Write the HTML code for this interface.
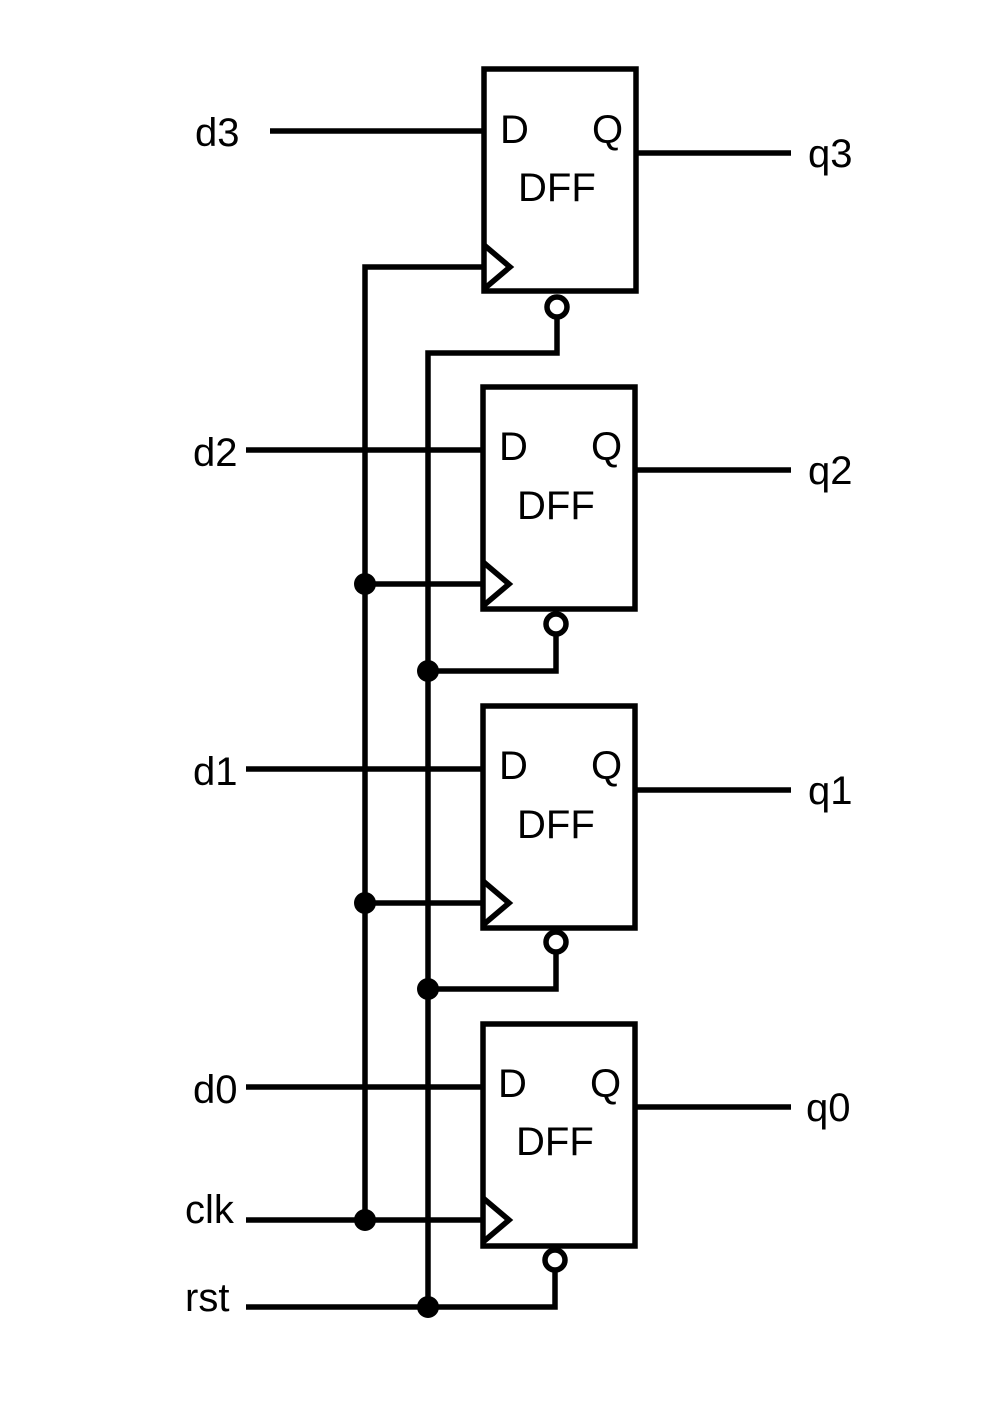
<!DOCTYPE html>
<html><head><meta charset="utf-8"><style>
html,body{margin:0;padding:0;background:#fff;}
svg{display:block;}
text{font-family:"Liberation Sans",Arial,sans-serif;font-size:40px;fill:#000;}
</style></head><body>
<svg width="999" height="1417" viewBox="0 0 999 1417" xmlns="http://www.w3.org/2000/svg">
<g stroke="#000" stroke-width="5.5" fill="none">
<rect x="484" y="69" width="152" height="222"/>
<rect x="483" y="387" width="152" height="222"/>
<rect x="483" y="706" width="152" height="222"/>
<rect x="483" y="1024" width="152" height="222"/>
<polyline points="484,245 510,267 484,289"/>
<polyline points="483,562 509,584 483,606"/>
<polyline points="483,881 509,903 483,925"/>
<polyline points="483,1198 509,1220 483,1242"/>
<circle cx="557" cy="307" r="10" fill="#fff"/>
<circle cx="556" cy="624" r="10" fill="#fff"/>
<circle cx="556" cy="942" r="10" fill="#fff"/>
<circle cx="555" cy="1260" r="10" fill="#fff"/>
<line x1="270" y1="131" x2="484" y2="131"/>
<line x1="246" y1="450" x2="483" y2="450"/>
<line x1="246" y1="769" x2="483" y2="769"/>
<line x1="246" y1="1087" x2="483" y2="1087"/>
<line x1="636" y1="153" x2="791" y2="153"/>
<line x1="635" y1="470" x2="791" y2="470"/>
<line x1="635" y1="790" x2="791" y2="790"/>
<line x1="635" y1="1107" x2="791" y2="1107"/>
<polyline points="484,267 365,267 365,1220"/>
<line x1="365" y1="584" x2="483" y2="584"/>
<line x1="365" y1="903" x2="483" y2="903"/>
<line x1="246" y1="1220" x2="483" y2="1220"/>
<polyline points="557,317 557,353 428,353 428,1307"/>
<polyline points="556,634 556,671 428,671"/>
<polyline points="556,952 556,989 428,989"/>
<polyline points="246,1307 555,1307 555,1270"/>
</g>
<g fill="#000">
<circle cx="365" cy="584" r="11"/>
<circle cx="365" cy="903" r="11"/>
<circle cx="365" cy="1220" r="11"/>
<circle cx="428" cy="671" r="11"/>
<circle cx="428" cy="989" r="11"/>
<circle cx="428" cy="1307" r="11"/>
</g>
<text x="195" y="146">d3</text>
<text x="193" y="466">d2</text>
<text x="193" y="785">d1</text>
<text x="193" y="1103">d0</text>
<text x="185" y="1223">clk</text>
<text x="185" y="1311">rst</text>
<text x="808" y="167">q3</text>
<text x="808" y="484">q2</text>
<text x="808" y="804">q1</text>
<text x="806" y="1121">q0</text>
<g>
<text x="500" y="143">D</text><text x="592" y="143">Q</text><text x="518" y="201">DFF</text>
<text x="499" y="460">D</text><text x="591" y="460">Q</text><text x="517" y="519">DFF</text>
<text x="499" y="779">D</text><text x="591" y="779">Q</text><text x="517" y="838">DFF</text>
<text x="498" y="1097">D</text><text x="590" y="1097">Q</text><text x="516" y="1155">DFF</text>
</g>
</svg>
</body></html>
